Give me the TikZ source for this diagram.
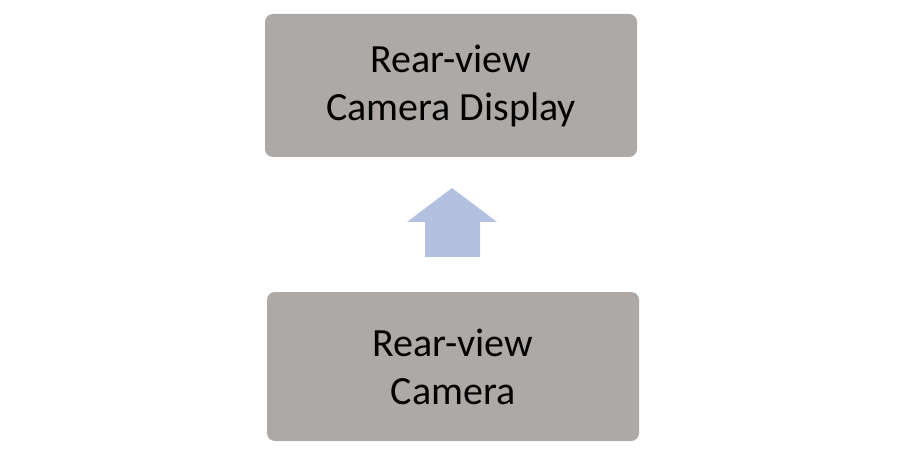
\documentclass[tikz,border=0pt]{standalone}
\usepackage{fontspec}
\setmainfont{Carlito}
\usetikzlibrary{positioning}
\definecolor{boxgray}{HTML}{ADA9A7}
\definecolor{arrowblue}{HTML}{B3C0E0}
\tikzset{
	unitbox/.style={fill=boxgray, rounded corners=8pt, align=center, inner sep=0pt,
		font=\fontsize{40}{48}\selectfont},
}
\begin{document}
\begin{tikzpicture}[x=1pt, y=-1pt]
	\useasboundingbox (0,0) rectangle (899,454);
	\node [unitbox, minimum width=372pt, minimum height=143pt] (display) at (451,85.5) {Rear-view\\Camera Display};
	\node [unitbox, minimum width=372pt, minimum height=149pt] (camera) at (453,366.5) {Rear-view\\Camera};
	% block arrow
	\coordinate (tip) at (452,188);
	\fill [arrowblue] (tip) -- (497,222) -- (480,222) -- (480,257) -- (425,257) -- (425,222) -- (407,222) -- cycle;
\end{tikzpicture}
\end{document}
